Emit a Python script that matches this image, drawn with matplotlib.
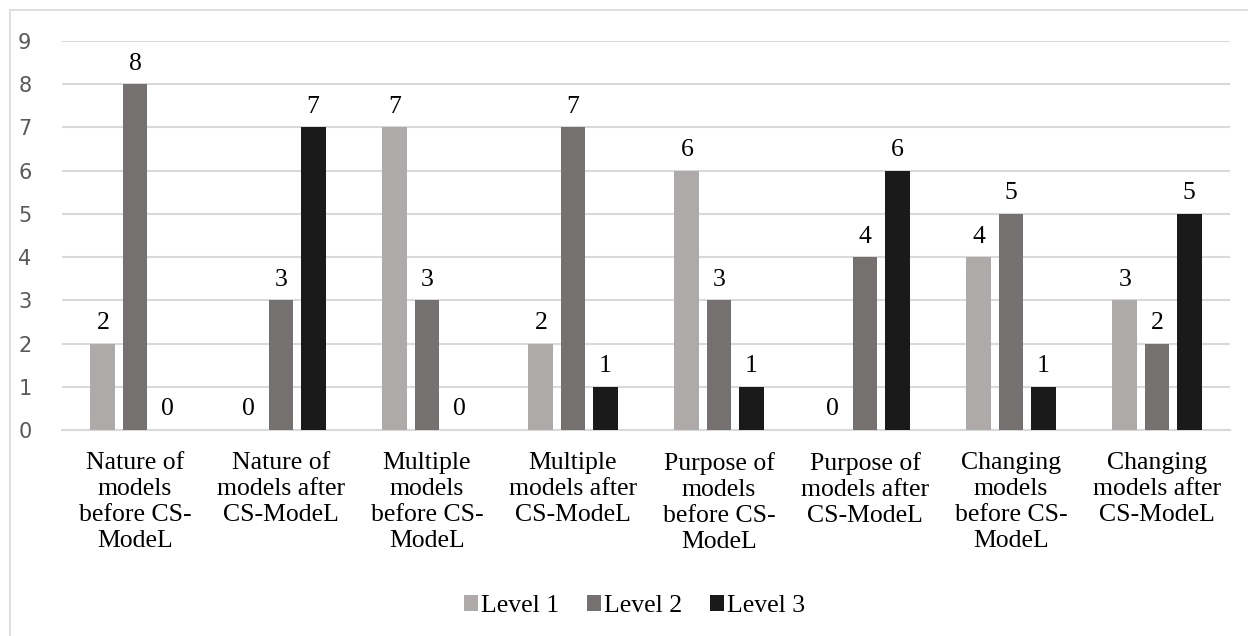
import matplotlib.pyplot as plt
import numpy as np
from matplotlib.patches import Rectangle

categories = ["Nature of\nmodels\nbefore CS-\nModeL", "Nature of\nmodels after\nCS-ModeL",
              "Multiple\nmodels\nbefore CS-\nModeL", "Multiple\nmodels after\nCS-ModeL",
              "Purpose of\nmodels\nbefore CS-\nModeL", "Purpose of\nmodels after\nCS-ModeL",
              "Changing\nmodels\nbefore CS-\nModeL", "Changing\nmodels after\nCS-ModeL"]
level1 = [2, 0, 7, 2, 6, 0, 4, 3]
level2 = [8, 3, 3, 7, 3, 4, 5, 2]
level3 = [0, 7, 0, 1, 1, 6, 1, 5]
series_names = ["Level 1", "Level 2", "Level 3"]
colors = ["#AEAAAA", "#767171", "#1A1A1A"]

fig = plt.figure(figsize=(12.48, 6.36), dpi=100)
ax = fig.add_axes([0.0497, 0.324, 0.9359, 0.6115])

# outer chart border (top/left visible, rest runs off the canvas)
fig.patches.append(Rectangle((10 / 1248, -0.1), 1.2, 1 - 10 / 636 + 0.1,
                             transform=fig.transFigure, fill=False,
                             edgecolor="#D9D9D9", linewidth=1.2))

x = np.arange(len(categories))
w = 0.17
offs = [-0.22, 0, 0.22]
serif = "Liberation Serif"
fs = 18.5
for vals, off, c, name in zip([level1, level2, level3], offs, colors, series_names):
    bars = ax.bar(x + off, vals, width=w, color=c, label=name, zorder=3)
    for xi, v in zip(x + off, vals):
        ax.text(xi, v + 0.22, str(v), ha="center", va="bottom",
                fontsize=fs, family=serif)

ax.set_xlim(-0.5, len(categories) - 0.5)
ax.set_ylim(0, 9)
ax.set_yticks(range(10))
ax.yaxis.grid(True, color="#D9D9D9", linewidth=1.5, zorder=0)
ax.set_axisbelow(True)
for s in ["top", "right", "left"]:
    ax.spines[s].set_visible(False)
ax.spines["bottom"].set_color("#D9D9D9")
ax.spines["bottom"].set_linewidth(1.5)
ax.tick_params(axis="both", length=0)
ax.tick_params(axis="y", labelsize=15, labelcolor="#595959", pad=22)
ax.set_xticks(x)
ax.set_xticklabels(categories, fontsize=fs, family=serif, linespacing=1.24)
ax.tick_params(axis="x", pad=16)

ax.legend(loc="upper center", bbox_to_anchor=(0.49, -0.365), ncol=3, frameon=False,
          prop={"family": serif, "size": fs}, handlelength=0.55, handleheight=0.55,
          handletextpad=0.1, columnspacing=1.1)

fig.savefig("out.png", dpi=100)
